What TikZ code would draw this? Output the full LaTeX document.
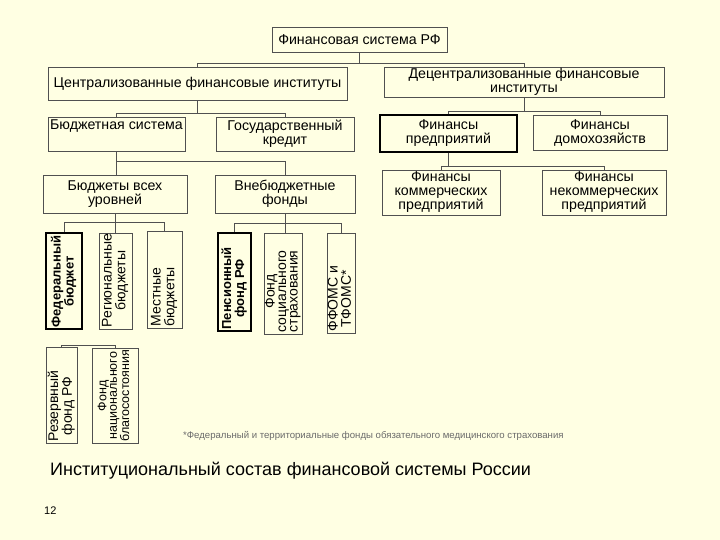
\documentclass[tikz,border=0pt]{standalone}
\usepackage{fontspec}
\setmainfont{Liberation Sans}
\usepackage{graphicx}
\usetikzlibrary{positioning, calc}
\definecolor{slidebg}{HTML}{FFFFE3}
\definecolor{framegray}{HTML}{505050}
\definecolor{notegray}{HTML}{6A6A6A}
\tikzset{
  % Plain boxes
  orgbox/.style={
    rectangle, draw=framegray, line width=0.7pt, text=black,
    font=\fontsize{14.2}{14}\selectfont, align=center, inner sep=1pt,
  },
  % Boxes with a heavier frame
  keybox/.style={draw=black, line width=1.1pt},
  % Upright boxes with turned text
  vertbox/.style={orgbox, inner sep=0pt, font=\fontsize{14}{11.5}\selectfont},
  keyvert/.style={vertbox, keybox, font=\fontsize{13}{11.5}\selectfont\bfseries},
  % Tree lines
  link/.style={draw=framegray, line width=0.7pt},
  % Footnote and slide texts
  notetext/.style={font=\fontsize{9.6}{10}\selectfont, text=notegray, inner sep=0pt},
  slidetext/.style={font=\fontsize{#1}{#1}\selectfont, text=black, inner sep=0pt},
  slidetext/.default={18},
}
\newcommand{\vlabel}[2]{\rotatebox{90}{\makebox[#1][l]{\hspace*{1.5pt}\begin{tabular}{@{}c@{}}#2\end{tabular}}}}

\begin{document}
\begin{tikzpicture}[x=1pt, y=-1pt]

  % Slide background
  \fill[slidebg] (0,0) rectangle (720,540);

  % Top level
  \node[orgbox, minimum width=175pt, minimum height=25pt] (fin-sys) at (359.5,39.5) {Финансовая система РФ};

  % Central side
  \node[orgbox, minimum width=299pt, minimum height=33pt] (central) at (197.5,83.5) {Централизованные финансовые институты};
  \node[orgbox, minimum width=137pt, minimum height=34pt] (bud-sys) at (116.5,134) {Бюджетная система\\\strut};
  \node[orgbox, minimum width=138pt, minimum height=34pt] (gov-credit) at (285,134) {Государственный\\кредит};
  \node[orgbox, minimum width=144pt, minimum height=38pt] (all-bud) at (115,194) {Бюджеты всех\\уровней};
  \node[orgbox, minimum width=140pt, minimum height=38pt] (off-bud) at (285,194) {Внебюджетные\\фонды};

  % Budgets of all levels
  \node[keyvert, minimum width=36pt] (fed-bud) at (64,281) {\vlabel{96pt}{Федеральный\\бюджет}};
  \node[vertbox, minimum width=33pt] (reg-bud) at (115.5,281) {\vlabel{96pt}{Региональные\\бюджеты}};
  \node[vertbox, minimum width=35pt] (loc-bud) at (164.5,279.5) {\vlabel{97pt}{Местные\\бюджеты}};
  \node[vertbox, minimum width=31pt] (res-fund) at (61.5,395) {\vlabel{96pt}{Резервный\\фонд РФ}};
  \node[vertbox, minimum width=46pt, font=\fontsize{12.5}{10.5}\selectfont] (nat-fund) at (115,395.5) {\vlabel{95pt}{Фонд\\национального\\благосостояния}};

  % Off-budget funds
  \node[keyvert, minimum width=33pt] (pens-fund) at (234.5,282) {\vlabel{98pt}{Пенсионный\\фонд РФ}};
  \node[vertbox, minimum width=38pt] (soc-fund) at (283,283.5) {\vlabel{101pt}{Фонд\\социального\\страхования}};
  \node[vertbox, minimum width=28pt] (med-fund) at (341,283) {\vlabel{100pt}{ФФОМС и\\ТФОМС*}};

  % Decentral side
  \node[orgbox, minimum width=280pt, minimum height=30pt] (decentral) at (524,82) {Децентрализованные финансовые\\институты};
  \node[orgbox, keybox, minimum width=137pt, minimum height=37pt] (ent-fin) at (448.5,133.5) {Финансы\\предприятий};
  \node[orgbox, minimum width=134pt, minimum height=35pt] (home-fin) at (600,132.5) {Финансы\\домохозяйств};
  \node[orgbox, minimum width=118pt, minimum height=45pt] (comm-fin) at (441,192.5) {Финансы\\коммерческих\\предприятий};
  \node[orgbox, minimum width=124pt, minimum height=45pt] (noncomm-fin) at (604,192.5) {Финансы\\некоммерческих\\предприятий};

  % Slide texts
  \node[notetext, anchor=west] (footnote) at (183,436) {*Федеральный и территориальные фонды обязательного медицинского страхования};
  \node[slidetext, anchor=west] (caption) at (50,471) {Институциональный состав финансовой системы России};
  \node[slidetext=11, anchor=west] (page-no) at (44,511) {12};

  % Bus levels
  \coordinate (bus-top) at (0,63);
  \coordinate (bus-cen) at (0,113);
  \coordinate (bus-bud) at (0,161);
  \coordinate (bus-all) at (0,222);
  \coordinate (bus-off) at (0,223);
  \coordinate (bus-res) at (0,345);
  \coordinate (bus-dec) at (0,111);
  \coordinate (bus-ent) at (0,166);

  % Tree lines
  \draw[link] (fin-sys.south) -- (fin-sys.south |- bus-top);
  \draw[link] (central.north) -- (central.north |- bus-top) -- (decentral.north |- bus-top) -- (decentral.north);

  \draw[link] (central.south) -- (central.south |- bus-cen);
  \draw[link] (bud-sys.north) -- (bud-sys.north |- bus-cen) -- (gov-credit.north |- bus-cen) -- (gov-credit.north);

  \draw[link] (bud-sys.south) -- (bud-sys.south |- all-bud.north);
  \draw[link] (bud-sys.south |- bus-bud) -- (off-bud.north |- bus-bud) -- (off-bud.north);

  \draw[link] (all-bud.south) -- (all-bud.south |- reg-bud.north);
  \draw[link] (fed-bud.north) -- (fed-bud.north |- bus-all) -- (loc-bud.north |- bus-all) -- (loc-bud.north);

  \draw[link] (off-bud.south) -- (off-bud.south |- soc-fund.north);
  \draw[link] (pens-fund.north) -- (pens-fund.north |- bus-off) -- (med-fund.north |- bus-off) -- (med-fund.north);

  \draw[link] (res-fund.north) -- (res-fund.north |- bus-res) -- (nat-fund.north |- bus-res) -- (nat-fund.north);

  \draw[link] (decentral.south) -- (decentral.south |- bus-dec);
  \draw[link] (ent-fin.north) -- (ent-fin.north |- bus-dec) -- (home-fin.north |- bus-dec) -- (home-fin.north);

  \draw[link] (ent-fin.south) -- (ent-fin.south |- bus-ent);
  \draw[link] (comm-fin.north) -- (comm-fin.north |- bus-ent) -- (noncomm-fin.north |- bus-ent) -- (noncomm-fin.north);

\end{tikzpicture}
\end{document}
